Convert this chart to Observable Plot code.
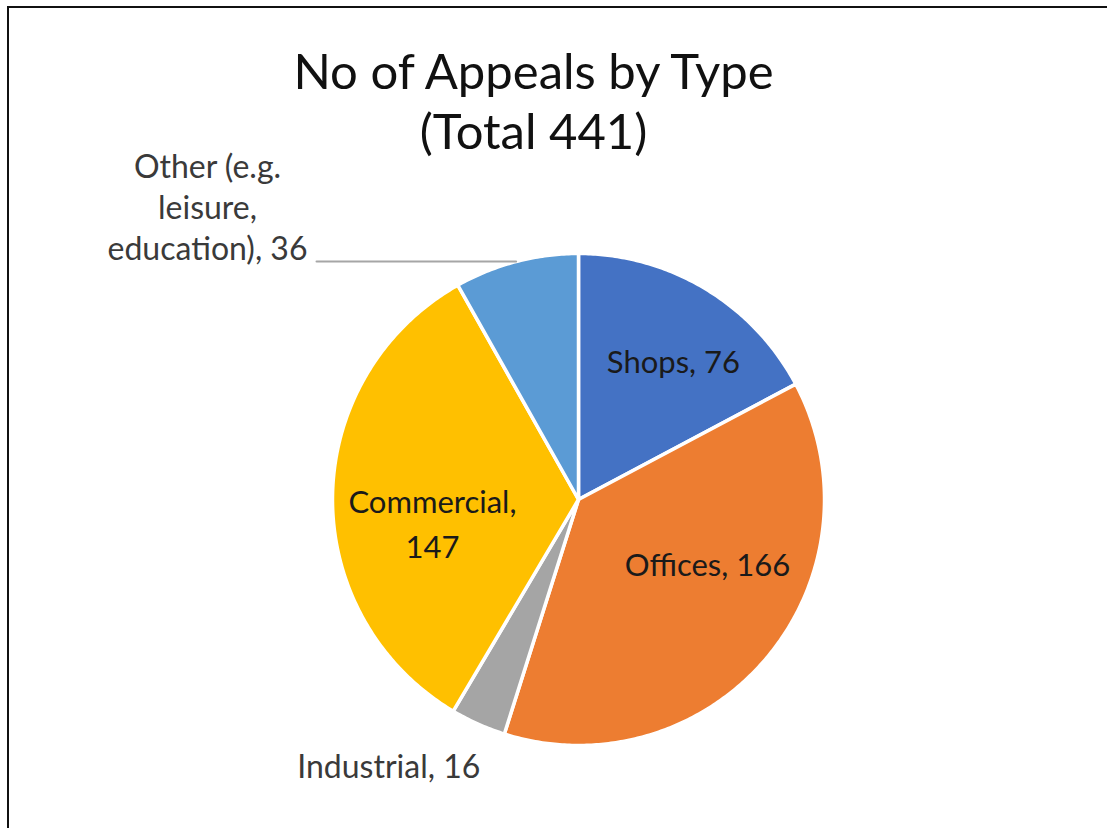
<!DOCTYPE html>
<html>
<head>
<meta charset="utf-8">
<script src="https://cdn.jsdelivr.net/npm/d3@7"></script>
<script src="https://cdn.jsdelivr.net/npm/@observablehq/plot@0.6"></script>
<style>
  html, body { margin: 0; padding: 0; background: #fff; }
  #wrap { position: relative; width: 1107px; height: 828px; overflow: hidden; }
  #border { position: absolute; left: 7px; top: 6px; width: 1200px; height: 900px;
            border-left: 2px solid #111; border-top: 2px solid #111; box-sizing: border-box; pointer-events: none; }
  svg { display: block; }
</style>
</head>
<body>
<div id="wrap"><div id="chart"></div><div id="border"></div></div>
<script>
// ---- data ----
const categories = ["Shops", "Offices", "Industrial", "Commercial", "Other (e.g. leisure, education)"];
const values = [76, 166, 16, 147, 36];
const colors = ["#4472C4", "#ED7D31", "#A5A5A5", "#FFC000", "#5B9BD5"];
const labelBreaks = [["Shops, 76"], ["Offices, 166"], ["Industrial, 16"], ["Commercial,", "147"], ["Other (e.g.", "leisure,", "education), 36"]];
const titleLines = ["No of Appeals by Type", "(Total 441)"];

// ---- layout (pixels / polar label placement) ----
const W = 1107, H = 828;
const cx = 578, cy = 499, R = 246;
// label positions: angle (deg, clockwise from top) and radius as fraction of R
const labelPolar = [
  [34.7, 0.678],
  [117.1, 0.589],
  [215.2, 1.338],
  [259.9, 0.603],
  [308.0, 1.91]
];

const total = d3.sum(values);
const toRad = d => d * Math.PI / 180;

// slice polygons from data
const slicePts = [];
let acc = 0;
const mids = [];
values.forEach((v, i) => {
  const a0 = acc / total * 2 * Math.PI;
  acc += v;
  const a1 = acc / total * 2 * Math.PI;
  mids.push((a0 + a1) / 2);
  const n = Math.max(4, Math.ceil((a1 - a0) / 0.01));
  slicePts.push({name: categories[i], x: 0, y: 0});
  for (let k = 0; k <= n; k++) {
    const a = a0 + (a1 - a0) * k / n;
    slicePts.push({name: categories[i], x: Math.sin(a), y: Math.cos(a)});
  }
  slicePts.push({name: categories[i], x: 0, y: 0});
});

const labels = categories.map((c, i) => {
  const [deg, f] = labelPolar[i];
  return {name: c, text: labelBreaks[i].join("\n"), x: f * Math.sin(toRad(deg)), y: f * Math.cos(toRad(deg))};
});
const otherIdx = 4;
const leaderLeftPx = 316;
const leader = [
  {x: Math.sin(mids[otherIdx]), y: Math.cos(mids[otherIdx])},
  {x: (leaderLeftPx - cx) / R, y: Math.cos(mids[otherIdx])}
];
labels[otherIdx].x = (207 - cx) / R;
labels[otherIdx].y = (cy - 209) / R;

const inside = labels.filter((d, i) => i !== otherIdx && i !== 2);
const outside = labels.filter((d, i) => i === otherIdx || i === 2);

const chart = Plot.plot({
  width: W,
  height: H,
  margin: 0,
  x: {domain: [-cx / R, (W - cx) / R], axis: null},
  y: {domain: [-(H - cy) / R, cy / R], axis: null},
  color: {type: "ordinal", domain: categories, range: colors},
  style: {fontFamily: "Lato, 'Open Sans', sans-serif", background: "#fff"},
  marks: [
    Plot.line(slicePts, {x: "x", y: "y", z: "name", fill: "name", stroke: "#fff", strokeWidth: 3.5, curve: "linear"}),
    Plot.line(leader, {x: "x", y: "y", stroke: "#A6A6A6", strokeWidth: 2}),
    Plot.text(inside, {x: "x", y: "y", text: "text", fontSize: 31, fill: "#1a1a1a", lineHeight: 1.45, dy: -4}),
    Plot.text(outside, {x: "x", y: "y", text: "text", fontSize: 32, fill: "#3a3a3a", lineHeight: 1.28, dy: -4}),
    Plot.text([titleLines.join("\n")], {frameAnchor: "top-left", dx: 533, dy: 99, textAnchor: "middle", lineAnchor: "middle", fontSize: 49, fill: "#111", lineHeight: 1.23})
  ]
});
document.getElementById("chart").appendChild(chart);
</script>
</body>
</html>
